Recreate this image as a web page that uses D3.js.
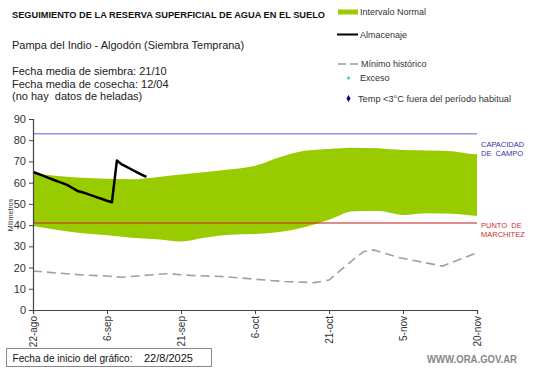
<!DOCTYPE html>
<html><head><meta charset="utf-8">
<script src="https://cdn.jsdelivr.net/npm/d3@7"></script>
<style>body{margin:0;background:#fff;} text{font-family:"Liberation Sans",Arial,sans-serif;}</style>
</head><body><svg id="c" width="541" height="368"></svg>
<script>
// ---- data ----
const startDate = new Date(2025, 7, 22);
const tickDays = [0, 15, 30, 45, 60, 75, 90];
const tickLabels = ["22-ago", "6-sep", "21-sep", "6-oct", "21-oct", "5-nov", "20-nov"];
const yTicks = [0, 10, 20, 30, 40, 50, 60, 70, 80, 90];

const almDays =   [0, 1, 2, 3, 4, 5, 6, 7, 8, 9, 10, 11, 12, 13, 14, 15, 16, 17, 18, 19, 20, 21, 22, 23];
const almValues = [65, 64.2, 63.3, 62.4, 61.5, 60.6, 59.8, 58.8, 57.5, 56.1, 55.5, 54.7, 53.9, 53.1, 52.3, 51.5, 50.8, 70.4, 68.6, 67.4, 66.2, 65.0, 63.8, 62.7];

const bandDays =  [0, 5, 10, 15, 20, 25, 30, 35, 40, 45, 50, 55, 60, 65, 70, 75, 80, 85, 88, 90];
const bandUpper = [64.4, 63.1, 62.3, 61.8, 61.6, 62.6, 63.8, 65.0, 66.3, 68.0, 72.0, 75.0, 75.9, 76.5, 76.2, 75.4, 75.2, 74.8, 73.8, 73.4];
const bandLower = [39.6, 37.7, 36.2, 35.2, 34.1, 33.3, 32.3, 34.2, 35.5, 35.8, 36.8, 39.0, 42.5, 46.5, 46.6, 44.8, 45.6, 45.3, 44.8, 44.3];

const minDays =   [0, 5, 10, 15, 18, 22, 27, 32, 39, 45, 51, 57, 60, 64, 67, 69, 74, 83, 90];
const minValues = [18.4, 17.4, 16.5, 16.0, 15.4, 16.2, 17.1, 16.3, 15.7, 14.5, 13.4, 12.9, 14.1, 22.0, 27.5, 28.3, 24.8, 20.7, 27.0];

const capacidad = 83;
const marchitez = 41;

// ---- drawing ----
const svg = d3.select("#c");
const dayToDate = d => d3.timeDay.offset(startDate, d);
const x = d3.scaleTime().domain([dayToDate(0), dayToDate(90)]).range([33, 477]);
const y = d3.scaleLinear().domain([0, 90]).range([310, 119]);

// band
const band = bandDays.map((d, i) => ({d, hi: bandUpper[i], lo: bandLower[i]}));
svg.append("path").datum(band)
  .attr("fill", "#99cc00")
  .attr("d", d3.area().curve(d3.curveMonotoneX).x(p => x(dayToDate(p.d))).y0(p => y(p.lo)).y1(p => y(p.hi)));

// reference lines
svg.append("line").attr("x1", x(dayToDate(0))).attr("x2", x(dayToDate(90)))
  .attr("y1", y(capacidad)).attr("y2", y(capacidad))
  .attr("stroke", "#8f98cf").attr("stroke-width", 1.5);
svg.append("line").attr("x1", x(dayToDate(0))).attr("x2", x(dayToDate(90)))
  .attr("y1", y(marchitez)).attr("y2", y(marchitez))
  .attr("stroke", "#c8302c").attr("stroke-opacity", 0.75).attr("stroke-width", 1.5);

// min historico
const minData = minDays.map((d, i) => ({d, v: minValues[i]}));
svg.append("path").datum(minData)
  .attr("fill", "none").attr("stroke", "#a0a0a0").attr("stroke-width", 1.6)
  .attr("stroke-dasharray", "9,5")
  .attr("d", d3.line().x(p => x(dayToDate(p.d))).y(p => y(p.v)));

// almacenaje
const almData = almDays.map((d, i) => ({d, v: almValues[i]}));
svg.append("path").datum(almData)
  .attr("fill", "none").attr("stroke", "#000").attr("stroke-width", 2.5).attr("stroke-linejoin", "round")
  .attr("d", d3.line().x(p => x(dayToDate(p.d))).y(p => y(p.v)));

// axes
const yAxis = d3.axisLeft(y).tickValues(yTicks).tickSize(4).tickPadding(3);
const gy = svg.append("g").attr("transform", "translate(33,0)").call(yAxis);
gy.select(".domain").attr("stroke", "#444").attr("stroke-width", 1.2);
gy.selectAll(".tick line").attr("stroke", "#444");
gy.selectAll(".tick text").attr("font-size", 11).attr("fill", "#333").style("font-family", "Liberation Sans, Arial");

const xAxis = d3.axisBottom(x).tickValues(tickDays.map(dayToDate))
  .tickFormat((d, i) => tickLabels[i]).tickSize(4).tickPadding(3);
const gx = svg.append("g").attr("transform", "translate(0,310)").call(xAxis);
gx.select(".domain").attr("stroke", "#444").attr("stroke-width", 1.2);
gx.selectAll(".tick line").attr("stroke", "#444");
gx.selectAll(".tick text").attr("font-size", 10).attr("fill", "#333")
  .attr("text-anchor", "end").attr("transform", "rotate(-90)")
  .attr("x", -6).attr("y", 0).attr("dy", "0.35em").style("font-family", "Liberation Sans, Arial");

svg.append("text").attr("transform", "translate(13,215) rotate(-90)")
  .attr("text-anchor", "middle").attr("font-size", 7).attr("fill", "#333").text("Milímetros");

// line labels
const capL = svg.append("text").attr("font-size", 7.5).attr("fill", "#3333a8");
capL.append("tspan").attr("x", 481).attr("y", 147).text("CAPACIDAD");
capL.append("tspan").attr("x", 481).attr("y", 156).text("DE  CAMPO");
const marL = svg.append("text").attr("font-size", 7.5).attr("fill", "#c83232");
marL.append("tspan").attr("x", 481).attr("y", 228).text("PUNTO  DE");
marL.append("tspan").attr("x", 481).attr("y", 237).text("MARCHITEZ");
svg.selectAll("tspan").style("white-space", "pre");

// titles
svg.append("text").attr("x", 12).attr("y", 17.5).attr("font-size", 9).attr("font-weight", "bold")
  .attr("fill", "#111").attr("textLength", 313).attr("lengthAdjust", "spacingAndGlyphs")
  .text("SEGUIMIENTO DE LA RESERVA SUPERFICIAL DE AGUA EN EL SUELO");
svg.append("text").attr("x", 12).attr("y", 49).attr("font-size", 11).attr("fill", "#222")
  .text("Pampa del Indio - Algodón (Siembra Temprana)");
const info = ["Fecha media de siembra: 21/10", "Fecha media de cosecha: 12/04", "(no hay  datos de heladas)"];
info.forEach((t, i) => svg.append("text").attr("x", 12).attr("y", 75 + i * 12.5)
  .attr("font-size", 11).attr("fill", "#222").style("white-space", "pre").text(t));

// legend
const lg = svg.append("g").attr("font-size", 9).attr("fill", "#333");
lg.append("rect").attr("x", 338).attr("y", 9.5).attr("width", 20).attr("height", 5).attr("fill", "#99cc00");
lg.append("text").attr("x", 360).attr("y", 15).text("Intervalo Normal");
lg.append("line").attr("x1", 337).attr("x2", 358).attr("y1", 34.5).attr("y2", 34.5).attr("stroke", "#000").attr("stroke-width", 2);
lg.append("text").attr("x", 360).attr("y", 37.5).text("Almacenaje");
lg.append("line").attr("x1", 338).attr("x2", 358).attr("y1", 64).attr("y2", 64).attr("stroke", "#999").attr("stroke-width", 1.3).attr("stroke-dasharray", "8,4");
lg.append("text").attr("x", 361).attr("y", 67).text("Mínimo histórico");
lg.append("circle").attr("cx", 348.5).attr("cy", 78).attr("r", 1.5).attr("fill", "#33cccc");
lg.append("text").attr("x", 360).attr("y", 81).text("Exceso");
lg.append("path").attr("d", d3.symbol().type(d3.symbolDiamond).size(14)()).attr("transform", "translate(348.5,98.5)").attr("fill", "#00008b");
lg.append("text").attr("x", 358).attr("y", 101.5).attr("textLength", 153).attr("lengthAdjust", "spacingAndGlyphs")
  .text("Temp <3°C fuera del período habitual");

// footer
svg.append("rect").attr("x", 6.5).attr("y", 348.5).attr("width", 205).attr("height", 18).attr("fill", "#fff").attr("stroke", "#888");
svg.append("text").attr("x", 12.5).attr("y", 361.5).attr("font-size", 11).attr("fill", "#111")
  .attr("textLength", 120).attr("lengthAdjust", "spacingAndGlyphs").text("Fecha de inicio del gráfico:");
svg.append("text").attr("x", 144).attr("y", 361.5).attr("font-size", 11).attr("fill", "#111").text("22/8/2025");
svg.append("text").attr("x", 427).attr("y", 363).attr("font-size", 10.5).attr("font-weight", "bold").attr("fill", "#888")
  .attr("textLength", 90).attr("lengthAdjust", "spacingAndGlyphs").text("WWW.ORA.GOV.AR");
</script></body></html>
